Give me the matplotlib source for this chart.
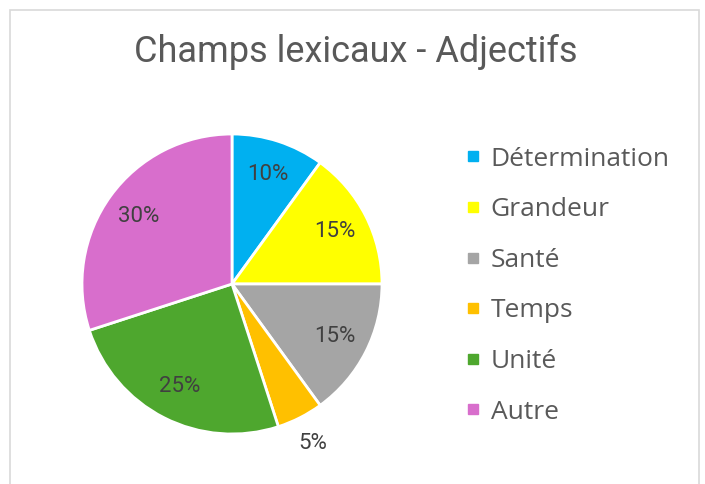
import matplotlib.pyplot as plt
from matplotlib.lines import Line2D
from matplotlib.patches import Rectangle

labels = ['Détermination', 'Grandeur', 'Santé', 'Temps', 'Unité', 'Autre']
values = [10, 15, 15, 5, 25, 30]
colors = ['#00B0F0', '#FFFF00', '#A5A5A5', '#FFC000', '#4EA72E', '#D86ECC']
title = 'Champs lexicaux - Adjectifs'

W, H = 705, 484
narrow = ['Roboto', 'DejaVu Sans']
regular = ['Open Sans', 'DejaVu Sans']

fig = plt.figure(figsize=(W / 100, H / 100), dpi=100)

# chart frame
fig.patches.append(Rectangle((10 / W, -0.01), 689 / W, (H - 10 + 5) / H,
                             transform=fig.transFigure, fill=False,
                             edgecolor='#D9D9D9', linewidth=1.2))

# pie axes: centre (232, 284) px from top, radius 150 px
cx, cy, r = 232, H - 284, 150
ax = fig.add_axes([(cx - r) / W, (cy - r) / H, 2 * r / W, 2 * r / H])
wedges, texts, autotexts = ax.pie(
    values, colors=colors, startangle=90, counterclock=False,
    autopct='%1.0f%%', pctdistance=0.77, radius=1,
    wedgeprops=dict(edgecolor='white', linewidth=2),
    textprops=dict(color='#404040', fontsize=16, family=narrow))
# the small slice label sits outside the pie
px, py = autotexts[3].get_position()
autotexts[3].set_position((px / 0.77 * 1.19, py / 0.77 * 1.19))
ax.set_xlim(-1, 1)
ax.set_ylim(-1, 1)
ax.set_aspect('equal')
ax.axis('off')

fig.text(356 / W, 1 - 52 / H, title, ha='center', va='center',
         fontsize=26, color='#595959', family=narrow)

handles = [Line2D([], [], marker='s', linestyle='none', markersize=7.5,
                  markerfacecolor=c, markeredgecolor=c) for c in colors]
leg = fig.legend(handles, labels, loc='upper left',
                 bbox_to_anchor=(455 / W, 1 - 136 / H),
                 frameon=False, handlelength=0.6, handletextpad=0.35,
                 labelspacing=0.97, borderaxespad=0,
                 prop=dict(family=regular, size=19))
for t in leg.get_texts():
    t.set_color('#595959')

fig.savefig('out.png', dpi=100)
